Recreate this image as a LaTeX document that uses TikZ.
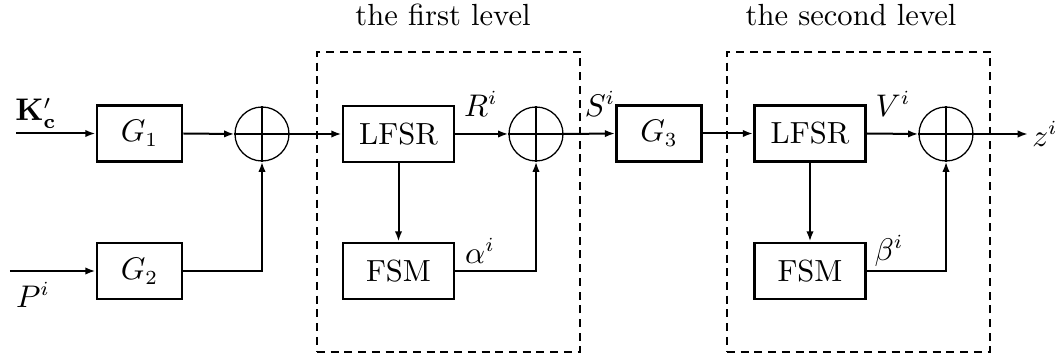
\documentclass[tikz,border=0pt]{standalone}
\usetikzlibrary{arrows.meta}
\begin{document}
\begin{tikzpicture}[x=0.35pt,y=-0.35pt,
  every node/.style={font=\fontsize{10.7}{12.8}\selectfont},
  blk/.style={draw,line width=1pt,minimum height=19.6pt,inner sep=0pt},
  gbox/.style={blk,minimum width=29.75pt},
  wbox/.style={blk,minimum width=38.85pt},
  xorc/.style={draw,circle,line width=0.45pt,minimum size=18.9pt,inner sep=0pt},
  arr/.style={line width=0.7pt,-{Latex[length=3.6pt,width=2.6pt]}},
  ln/.style={line width=0.7pt},
  dashbox/.style={draw,line width=0.9pt,dash pattern=on 2.8pt off 2pt,minimum width=92.05pt,minimum height=105pt,inner sep=0pt},
  lbl/.style={inner sep=0pt}]
\useasboundingbox (0,0) rectangle (1063,360);
% level frames
\node[dashbox] (lv1) at (448.5,202) {};
\node[dashbox] (lv2) at (858.5,202) {};
\node[lbl] (t1) at (443,15) {the first level};
\node[lbl] (t2) at (851,15) {the second level};
% blocks
\node[gbox] (G1) at (139.5,133.5) {$G_1$};
\node[gbox] (G2) at (139.5,271) {$G_2$};
\node[xorc] (X1) at (262,134) {};
\node[wbox] (L1) at (398.5,134) {LFSR};
\node[wbox] (F1) at (398.5,271) {FSM};
\node[xorc] (X2) at (536,134) {};
\node[gbox] (G3) at (659,133.5) {$G_3$};
\node[wbox] (L2) at (810,133.5) {LFSR};
\node[wbox] (F2) at (810,271) {FSM};
\node[xorc] (X3) at (946,134) {};
% crosshairs
\draw[ln] (X1.west) -- (X1.east);
\draw[line width=1pt] (X1.north) -- (X1.south);
\draw[ln] (X2.west) -- (X2.east) (X2.north) -- (X2.south);
\draw[ln] (X3.west) -- (X3.east) (X3.north) -- (X3.south);
% inputs / output
\coordinate (kin) at (16,133.5);
\coordinate (pin) at (10,271);
\coordinate (zout) at (1028,134);
\node[lbl] (K) at (36,113) {$\mathbf{K}'_{\mathbf{c}}$};
\node[lbl] (P) at (33,295) {$P^i$};
\node[lbl] (z) at (1045,134) {$z^i$};
\node[lbl] (R) at (481,104) {$R^i$};
\node[lbl] (S) at (600,104) {$S^i$};
\node[lbl] (V) at (893,104) {$V^i$};
\node[lbl] (al) at (480,251) {$\alpha^i$};
\node[lbl] (be) at (889,251) {$\beta^i$};
% connectors
\draw[arr] (kin) -- (G1.west);
\draw[arr] (pin) -- (G2.west);
\draw[arr] (G1.east) -- (X1.west);
\draw[arr,line width=1pt] (G2.east) -| (X1.south);
\draw[arr] (X1.east) -- (L1.west);
\draw[arr] (L1.east) -- (X2.west);
\draw[arr] (L1.south) -- (F1.north);
\draw[arr] (F1.east) -| (X2.south);
\draw[arr] (X2.east) -- (G3.west);
\draw[arr] (G3.east) -- (L2.west);
\draw[arr] (L2.east) -- (X3.west);
\draw[arr,line width=1pt] (L2.south) -- (F2.north);
\draw[arr] (F2.east) -| (X3.south);
\draw[arr] (X3.east) -- (zout);
\end{tikzpicture}
\end{document}
